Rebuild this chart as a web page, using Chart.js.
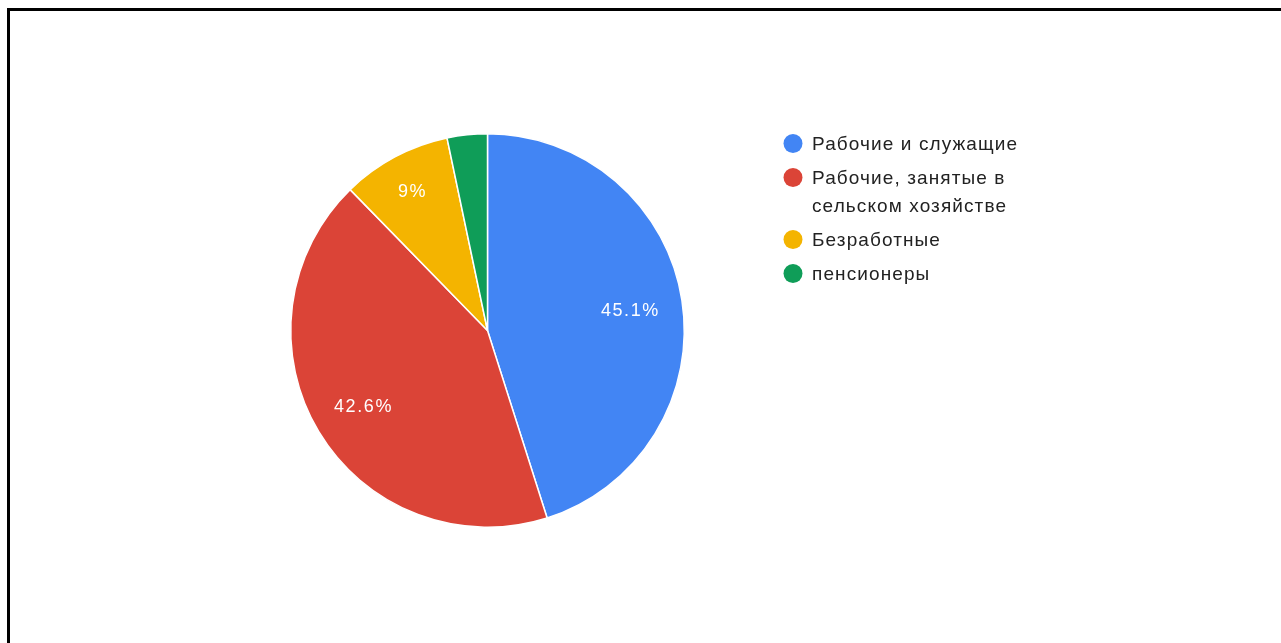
<!DOCTYPE html>
<html>
<head>
<meta charset="utf-8">
<script src="https://cdn.jsdelivr.net/npm/chart.js@4"></script>
<style>
  html, body { margin: 0; padding: 0; background: #fff; }
  #wrap { position: relative; width: 1281px; height: 643px; overflow: hidden; }
  #frame { position: absolute; left: 7px; top: 8px; width: 1300px; height: 700px;
           border-left: 3px solid #000; border-top: 3px solid #000; box-sizing: border-box; pointer-events: none; }
  canvas { position: absolute; left: 0; top: 0; }
</style>
</head>
<body>
<div id="wrap">
  <canvas id="c" width="1281" height="643"></canvas>
  <div id="frame"></div>
</div>
<script>
const categories = [
  'Рабочие и служащие',
  ['Рабочие, занятые в', 'сельском хозяйстве'],
  'Безработные',
  'пенсионеры'
];
const shares = [45.1, 42.6, 9.0, 3.3];
const sliceLabels = ['45.1%', '42.6%', '9%', ''];
const colors = ['#4285F4', '#DB4437', '#F4B400', '#0F9D58'];

const FONT = '"Liberation Sans", Arial, sans-serif';

const sliceTextPlugin = {
  id: 'sliceText',
  afterDatasetsDraw(chart) {
    const ctx = chart.ctx;
    const meta = chart.getDatasetMeta(0);
    ctx.save();
    ctx.fillStyle = '#ffffff';
    ctx.font = '18px ' + FONT;
    ctx.textAlign = 'center';
    ctx.textBaseline = 'middle';
    try { ctx.letterSpacing = '1.6px'; } catch (e) {}
    meta.data.forEach((arc, i) => {
      const txt = sliceLabels[i];
      if (!txt) return;
      const p = arc.getProps(['x', 'y', 'startAngle', 'endAngle', 'outerRadius'], true);
      const mid = (p.startAngle + p.endAngle) / 2;
      const span = p.endAngle - p.startAngle;
      const f = span < 0.7 ? 0.81 : 0.735;
      const r = p.outerRadius * f;
      ctx.fillText(txt, p.x + Math.cos(mid) * r, p.y + Math.sin(mid) * r + 2.5);
    });
    ctx.restore();
  }
};

const legendPlugin = {
  id: 'sideLegend',
  afterDraw(chart) {
    const ctx = chart.ctx;
    const labels = chart.data.labels;
    const bg = chart.data.datasets[0].backgroundColor;
    const x0 = 793, textX = 812;
    let y = 143.5;
    const lineH = 28, gap = 34;
    ctx.save();
    ctx.font = '19px ' + FONT;
    ctx.textBaseline = 'middle';
    ctx.textAlign = 'left';
    try { ctx.letterSpacing = '1.1px'; } catch (e) {}
    labels.forEach((lab, i) => {
      const lines = Array.isArray(lab) ? lab : [lab];
      ctx.fillStyle = bg[i];
      ctx.beginPath();
      ctx.arc(x0, y, 9.5, 0, Math.PI * 2);
      ctx.fill();
      ctx.fillStyle = '#222222';
      lines.forEach((ln, j) => ctx.fillText(ln, textX, y + 1 + j * lineH));
      y += (lines.length - 1) * lineH + gap;
    });
    ctx.restore();
  }
};

new Chart(document.getElementById('c'), {
  type: 'pie',
  data: {
    labels: categories,
    datasets: [{
      data: shares,
      backgroundColor: colors,
      borderColor: '#ffffff',
      borderWidth: 1.5,
      hoverOffset: 0
    }]
  },
  options: {
    responsive: false,
    animation: false,
    devicePixelRatio: 1,
    layout: { padding: { left: 290, right: 596, top: 133, bottom: 115 } },
    plugins: {
      legend: { display: false },
      tooltip: { enabled: false },
      title: { display: false }
    }
  },
  plugins: [sliceTextPlugin, legendPlugin]
});
</script>
</body>
</html>
